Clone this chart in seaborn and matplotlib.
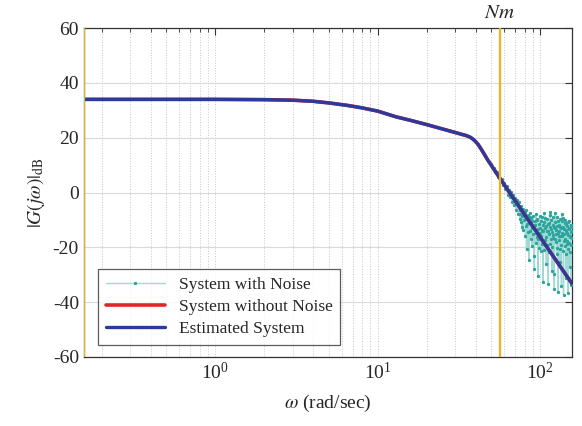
import numpy as np
import pandas as pd
import seaborn as sns
import matplotlib.pyplot as plt
from matplotlib.ticker import LogLocator, NullFormatter
import matplotlib.transforms as mtransforms

# clean / estimated magnitude response
w_clean = [0.155, 1.0, 2.0, 3.0, 4.0, 5.0, 6.5, 8.0, 10.0, 13.0, 16.0, 20.0,
           25.0, 30.0, 33.0, 35.0, 37.0, 38.5, 40.0, 41.5, 43.0, 45.0, 47.0,
           50.0, 56.0, 65.0, 75.0, 94.0, 120.0, 157.0]
mag_clean = [34.0, 34.0, 33.9, 33.7, 33.3, 32.7, 31.8, 30.9, 29.7, 27.6, 26.3,
             24.8, 23.2, 21.9, 21.2, 20.8, 20.2, 19.5, 18.6, 17.5, 16.1, 14.2,
             12.3, 9.9, 5.5, -0.2, -5.6, -14.0, -23.2, -33.3]

# noisy measurement (only the part that shows above the curve), whole steps
w_noise_a = [50, 51, 52, 53, 54, 55, 56, 57, 58, 59, 60, 61, 62, 63, 64, 65, 66,
             67, 68, 69, 70, 71, 72, 73, 74, 75, 76, 77, 78, 79, 80, 81, 82, 83,
             84, 85, 86, 87, 88, 89, 90, 91, 92, 93, 94, 95, 96, 97, 98, 99, 100,
             101, 102, 103, 104, 105, 106, 107, 108, 109, 110, 111, 112, 113,
             114, 115, 116, 117, 118, 119, 120, 121, 122, 123, 124, 125, 126,
             127, 128, 129, 130, 131, 132, 133, 134, 135, 136, 137, 138, 139,
             140, 141, 142, 143, 144, 145, 146, 147, 148, 149, 150, 151, 152,
             153, 154, 155, 156, 157]
mag_noise_a = [10.3, 9.0, 8.9, 7.4, 7.6, 5.8, 6.0, 4.3, 4.9, 2.6, 3.4, 1.2, 2.5,
               -0.9, 1.1, -1.8, 0.2, -3.5, -0.8, -4.6, -1.9, -6.2, -2.8, -8.0,
               -3.6, -9.5, -4.8, -12.4, -5.9, -10.1, -7.2, -15.8, -6.5, -11.3,
               -8.1, -24.6, -7.4, -13.9, -9.2, -19.5, -8.6, -12.7, -27.8, -10.4,
               -7.9, -16.2, -9.8, -30.5, -11.6, -8.4, -14.7, -21.3, -9.1, -13.5,
               -32.6, -10.8, -7.6, -17.4, -12.2, -25.9, -9.5, -14.1, -33.4,
               -11.0, -8.3, -18.8, -13.2, -10.1, -28.7, -15.5, -9.0, -12.6,
               -35.1, -16.9, -10.7, -13.8, -22.4, -8.8, -14.6, -36.2, -11.9,
               -17.3, -9.6, -20.5, -13.1, -34.0, -10.3, -16.0, -12.4, -37.3,
               -15.2, -9.9, -19.6, -13.7, -31.2, -11.4, -17.8, -14.9, -36.8,
               -10.6, -18.4, -13.3, -27.1, -15.7, -12.0, -33.9, -16.6, -14.2]

# noisy measurement, half steps in the dense tail
w_noise_b = [74.5, 75.5, 76.5, 77.5, 78.5, 79.5, 80.5, 81.5, 82.5, 83.5, 84.5,
             85.5, 86.5, 87.5, 88.5, 89.5, 90.5, 91.5, 92.5, 93.5, 94.5, 95.5,
             96.5, 97.5, 98.5, 99.5, 100.5, 101.5, 102.5, 103.5, 104.5, 105.5,
             106.5, 107.5, 108.5, 109.5, 110.5, 111.5, 112.5, 113.5, 114.5,
             115.5, 116.5, 117.5, 118.5, 119.5, 120.5, 121.5, 122.5, 123.5,
             124.5, 125.5, 126.5, 127.5, 128.5, 129.5, 130.5, 131.5, 132.5,
             133.5, 134.5, 135.5, 136.5, 137.5, 138.5, 139.5, 140.5, 141.5,
             142.5, 143.5, 144.5, 145.5, 146.5, 147.5, 148.5, 149.5, 150.5,
             151.5, 152.5, 153.5, 154.5, 155.5, 156.5]
mag_noise_b = [-6.5, -7.8, -10.9, -8.7, -13.6, -7.0, -9.8, -12.1, -20.7, -8.9,
               -14.4, -11.2, -9.0, -17.0, -13.0, -10.2, -15.3, -23.0, -11.8,
               -14.9, -18.3, -10.0, -13.4, -16.8, -20.1, -12.9, -10.5, -15.9,
               -18.6, -11.7, -14.0, -20.9, -12.8, -9.4, -16.3, -13.9, -19.2,
               -11.3, -15.0, -21.6, -12.5, -7.2, -17.1, -14.3, -19.9, -12.0,
               -16.5, -29.8, -13.0, -7.5, -18.0, -15.1, -12.3, -20.2, -10.4,
               -16.0, -14.1, -25.3, -12.7, -15.8, -19.0, -7.8, -14.8, -21.4,
               -9.3, -17.6, -13.4, -16.9, -11.1, -22.6, -14.0, -18.7, -12.1,
               -20.6, -15.4, -13.0, -10.2, -21.8, -16.1, -11.9, -19.3, -14.5,
               -12.6]

w_left = 0.155
w_nm = 56.5
x_range = (0.155, 157)
y_ticks = [-60, -40, -20, 0, 20, 40, 60]


def main():
    sns.set_style("whitegrid")
    plt.rcParams["font.family"] = ["Liberation Serif", "DejaVu Serif"]
    plt.rcParams["mathtext.fontset"] = "stix"
    plt.rcParams["axes.unicode_minus"] = False

    fig = plt.figure(figsize=(5.82, 4.26), dpi=100)
    ax = fig.add_axes([0.144, 0.162, 0.839, 0.772])

    noise = pd.concat([
        pd.DataFrame({"w": w_noise_a, "mag": mag_noise_a}),
        pd.DataFrame({"w": w_noise_b, "mag": mag_noise_b}),
    ]).sort_values("w")
    clean = pd.DataFrame({"w": w_clean, "mag": mag_clean})

    sns.lineplot(data=noise, x="w", y="mag", ax=ax, estimator=None, sort=False,
                 color="#9fd9d5", lw=1.0, marker=".", markersize=3.2,
                 markerfacecolor="#2aa49c", markeredgecolor="#2aa49c",
                 label="System with Noise", zorder=3)
    sns.lineplot(data=clean, x="w", y="mag", ax=ax, estimator=None, sort=False,
                 color="#e02626", lw=2.6, label="System without Noise", zorder=4)
    sns.lineplot(data=clean, x="w", y="mag", ax=ax, estimator=None, sort=False,
                 color="#2b3a9c", lw=2.4, label="Estimated System", zorder=5)

    for xv in (w_left, w_nm):
        ax.axvline(xv, color="#edb120", lw=1.6, zorder=6)

    ax.set_xscale("log")
    ax.set_xlim(*x_range)
    ax.set_ylim(-60, 60)
    ax.set_yticks(y_ticks)
    ax.xaxis.set_minor_locator(LogLocator(base=10, subs=np.arange(2, 10)))
    ax.xaxis.set_minor_formatter(NullFormatter())

    ax.grid(True, which="major", axis="y", color="#d9d9d9", lw=0.8, ls="-")
    ax.grid(True, which="both", axis="x", color="#c8c8c8", lw=0.7, ls=":")

    for s in ax.spines.values():
        s.set_color("#333333")
        s.set_linewidth(0.9)
    ax.tick_params(which="both", direction="in", top=True, right=True,
                   color="#333333", labelsize=14)
    ax.tick_params(which="major", length=5)
    ax.tick_params(which="minor", length=3)

    ax.set_xlabel(r"$\omega$ (rad/sec)", fontsize=14, labelpad=7)
    ax.set_ylabel(r"$|G(j\omega)|_{\mathrm{dB}}$", fontsize=14)

    trans = mtransforms.blended_transform_factory(ax.transData, ax.transAxes)
    ax.text(w_nm, 1.015, r"$Nm$", transform=trans, ha="center", va="bottom",
            fontsize=15)

    leg = ax.legend(loc="lower left", bbox_to_anchor=(0.029, 0.036),
                    borderaxespad=0, fontsize=12.5,
                    frameon=True, fancybox=False, handlelength=3.4,
                    borderpad=0.45, labelspacing=0.35)
    leg.get_frame().set_edgecolor("#333333")
    leg.get_frame().set_linewidth(0.9)

    fig.savefig("out.png", dpi=100)


if __name__ == "__main__":
    main()
